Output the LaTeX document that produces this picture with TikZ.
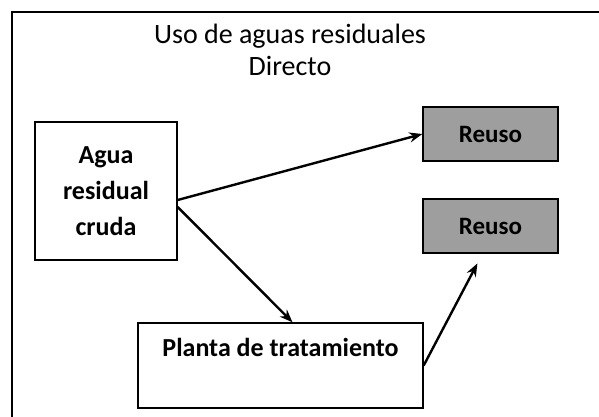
\documentclass[tikz,border=0pt]{standalone}
\usepackage{fontspec}
\setmainfont{Carlito}
\usetikzlibrary{arrows.meta}
\usetikzlibrary{calc}
\tikzset{
	box/.style={draw, line width=1.4pt, inner sep=0pt, align=center, font=\fontsize{26}{36}\selectfont\bfseries},
	reusebox/.style={box, fill=black!38, minimum width=135pt, minimum height=54pt, font=\fontsize{25}{30}\selectfont\bfseries},
	flow/.style={line width=2.4pt, -{Stealth[length=13pt,width=10pt]}}
}

\begin{document}
\begin{tikzpicture}[x=1pt, y=-1pt]
	% page: 599 x 417, y pointing down
	\useasboundingbox (0, 0) rectangle (599, 417);
	
	% outer frame, cut at right and bottom
	\draw[line width=1.2pt] (12, 417) -- (12, 12) -- (599, 12);
	
	% title
	\node[align=center, font=\fontsize{28}{32}\selectfont] (title) at (290, 50) {Uso de aguas residuales\\Directo};
	
	% boxes
	\node[box, minimum width=142pt, minimum height=138pt] (agua) at (106, 191) {Agua\\residual\\cruda};
	\node[box, minimum width=285pt, minimum height=85pt] (planta) at (280.5, 365.5) {Planta de tratamiento\\\mbox{}};
	\node[reusebox] (reuso1) at (490.5, 134) {Reuso};
	\node[reusebox] (reuso2) at (490.5, 226) {Reuso};
	
	% arrows
	\draw[flow] ([yshift=-9pt]agua.east) -- (reuso1.west);
	\draw[flow] ([yshift=-16pt]agua.east) -- ([xshift=12pt]planta.north);
	\draw[flow, shorten >=11pt] (planta.east) -- ([xshift=-8pt]reuso2.south);
\end{tikzpicture}
\end{document}
